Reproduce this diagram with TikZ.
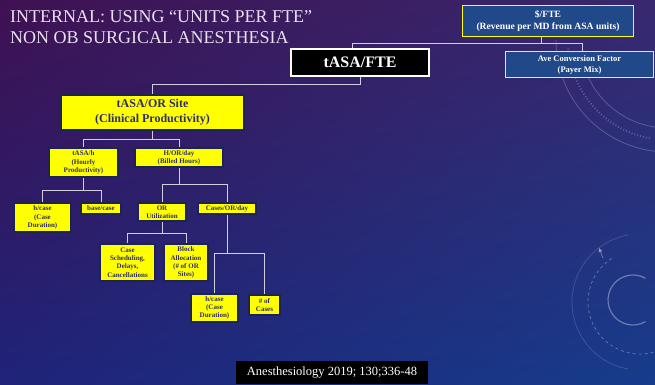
\documentclass[tikz,border=0pt]{standalone}
\usepackage{fontspec}
\setmainfont{Liberation Serif}
\usetikzlibrary{arrows.meta,shadings}

\definecolor{yel}{HTML}{FFFF00}
\definecolor{navyedge}{HTML}{1B2357}
\definecolor{navytext}{HTML}{2E2E66}
\definecolor{boxblue}{HTML}{214889}
\definecolor{wirec}{HTML}{CFCFE0}
\definecolor{titlecol}{HTML}{E8E0F0}
\definecolor{bgTL}{HTML}{3F1152}
\definecolor{bgTR}{HTML}{38286F}
\definecolor{bgBL}{HTML}{1F2379}
\definecolor{bgBR}{HTML}{163C8B}

\tikzset{
  ybox/.style={fill=yel, draw=navyedge, line width=1.6pt, text=navytext,
    font=\bfseries\fontsize{7}{8.3}\selectfont, align=center, inner sep=0pt},
  bbox/.style={fill=boxblue, draw=yel, line width=1.2pt, text=white,
    align=center, inner sep=0pt},
  wire/.style={draw=wirec, line width=0.8pt},
  deco/.style={draw=white, opacity=0.22, line width=0.8pt},
}

\begin{document}
\begin{tikzpicture}[x=1pt, y=-1pt]
\useasboundingbox (0,0) rectangle (655,384);

% backdrop
\shade[upper left=bgTL, upper right=bgTR, lower left=bgBL, lower right=bgBR]
  (0,0) rectangle (655,384);

% faint ornaments on the right edge
\begin{scope}
  \clip (0,0) rectangle (655,384);
  \draw[deco] (668,40) ++(180:112) arc[start angle=180, end angle=80, radius=112];
  \draw[deco] (668,40) ++(170:88) arc[start angle=170, end angle=95, radius=88];
  \draw[deco, dash pattern=on 1pt off 2pt, line width=2pt] (668,40) ++(175:100) arc[start angle=175, end angle=100, radius=100];
  \draw[deco, line width=1.2pt, opacity=0.35] (633,300) ++(60:25) arc[start angle=60, end angle=300, radius=25];
  \draw[deco, dashed, opacity=0.3] (640,302) ++(75:52) arc[start angle=75, end angle=240, radius=52];
  \draw[deco, opacity=0.15] (640,302) ++(100:68) arc[start angle=100, end angle=260, radius=68];
  \draw[deco, -{Triangle[length=4pt,width=4pt]}, opacity=0.35] (603,258) -- (599,248);
\end{scope}

% heading
\node[anchor=north west, inner sep=0pt, text=titlecol, align=left,
      font=\fontsize{18}{21}\selectfont] (title) at (10,10.5)
  {INTERNAL: USING “UNITS PER FTE”\\NON OB SURGICAL ANESTHESIA};

% top level
\node[fill=black, draw=white, line width=2pt, text=white, inner sep=0pt,
      minimum width=138, minimum height=27,
      font=\bfseries\fontsize{16}{18}\selectfont] (tasafte) at (360,62.5) {tASA/FTE};
\node[bbox, minimum width=170.8, minimum height=30.8,
      font=\bfseries\fontsize{9.6}{12.5}\selectfont] (dollar) at (548,21)
  {\$/FTE\\(Revenue per MD from ASA units)};
\node[bbox, minimum width=147.8, minimum height=25.8,
      font=\bfseries\fontsize{8.5}{11}\selectfont] (avecf) at (579.5,64.5)
  {Ave Conversion Factor\\(Payer Mix)};

% second level
\node[ybox, minimum width=183.4, minimum height=35.4,
      font=\bfseries\fontsize{12}{15}\selectfont] (tasaor) at (152.5,112.5)
  {tASA/OR Site\\(Clinical Productivity)};

% third level
\node[ybox, minimum width=69.4, minimum height=29.4] (tasah) at (83.5,162.5)
  {tASA/h\\(Hourly\\Productivity)};
\node[ybox, minimum width=88.4, minimum height=19.4] (hor) at (179,157.5)
  {H/OR/day\\(Billed Hours)};

% fourth level
\node[ybox, minimum width=57.4, minimum height=29.4] (hcasea) at (42.5,217.5)
  {h/case\\(Case\\Duration)};
\node[ybox, minimum width=40.4, minimum height=11.4] (basecase) at (101,208.5)
  {base/case};
\node[ybox, minimum width=48.4, minimum height=18.4] (orutil) at (162,212)
  {OR\\Utilization};
\node[ybox, minimum width=58.4, minimum height=11.4] (casesor) at (227,208.5)
  {Cases/OR/day};

% fifth level
\node[ybox, minimum width=55.4, minimum height=37.4] (sched) at (127.5,262.5)
  {Case\\Scheduling,\\Delays,\\Cancellations};
\node[ybox, minimum width=44.4, minimum height=37.4] (block) at (186,262.5)
  {Block\\Allocation\\(\# of OR\\Sites)};
\node[ybox, minimum width=47.4, minimum height=28.4] (hcaseb) at (214.5,308)
  {h/case\\(Case\\Duration)};
\node[ybox, minimum width=31.4, minimum height=20.4] (ncases) at (264.5,305)
  {\# of\\Cases};

% reference
\node[fill=black, text=white, inner sep=0pt, minimum width=192, minimum height=23,
      font=\fontsize{12.5}{14}\selectfont] (cite) at (332,372.5)
  {Anesthesiology 2019; 130;336-48};

% junction points of the tree
\coordinate (jtop) at (0,43);
\coordinate (j1) at (0,84);
\coordinate (j2) at (0,139);
\coordinate (j3) at (0,190);
\coordinate (j4) at (0,184);
\coordinate (j5) at (0,233);
\coordinate (j6) at (0,253);

% connectors
\draw[wire] (tasafte.north -| 352,0) -- (352,43) -- (582,43) -- (avecf.north -| 582,0);
\draw[wire] (dollar.south -| 541.5,0) -- (541.5,43);

\draw[wire] (tasafte.south) -- (tasafte.south |- j1) -| (tasaor.north);

\draw[wire] (tasaor.south) -- (tasaor.south |- j2);
\draw[wire] (tasah.north) -- (tasah.north |- j2) -| (hor.north);

\draw[wire] (tasah.south) -- (tasah.south |- j3);
\draw[wire] (hcasea.north) -- (hcasea.north |- j3) -| (basecase.north);

\draw[wire] (hor.south) -- (hor.south |- j4);
\draw[wire] (orutil.north) -- (orutil.north |- j4) -| (casesor.north);

\draw[wire] (orutil.south) -- (orutil.south |- j5);
\draw[wire] (sched.north) -- (sched.north |- j5) -| (block.north);

\draw[wire] (casesor.south) -- (casesor.south |- j6);
\draw[wire] (hcaseb.north) -- (hcaseb.north |- j6) -| (ncases.north);
\end{tikzpicture}
\end{document}
